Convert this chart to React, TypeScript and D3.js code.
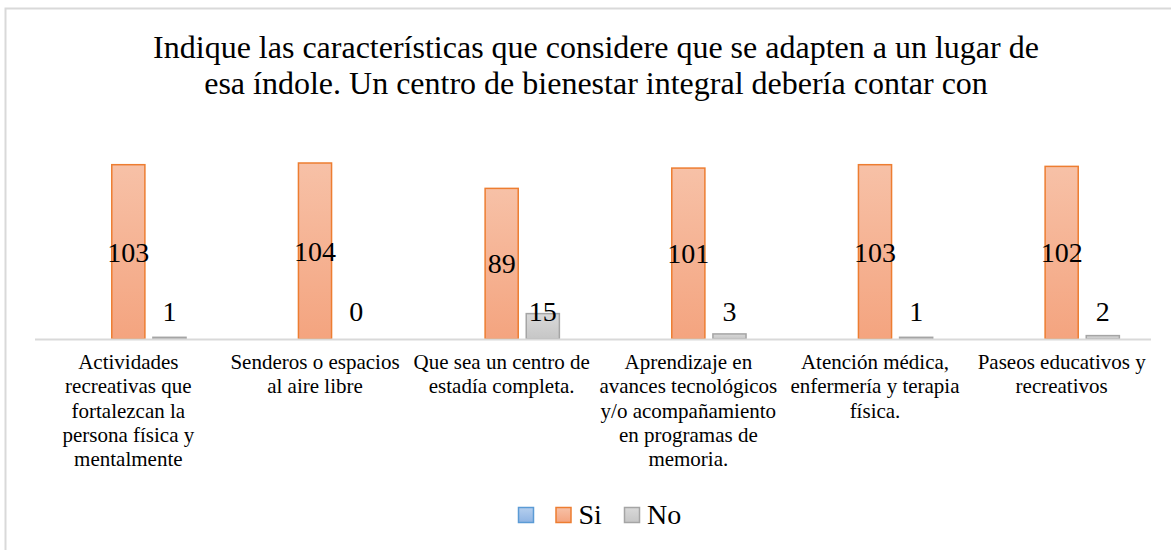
import * as d3 from 'd3';

const titleLines = [
  'Indique las características que considere que se adapten a un lugar de',
  'esa índole. Un centro de bienestar integral debería contar con',
];

const categories = ['c1', 'c2', 'c3', 'c4', 'c5', 'c6'];

const categoryLabels = [
  ['Actividades', 'recreativas que', 'fortalezcan la', 'persona física y', 'mentalmente'],
  ['Senderos o espacios', 'al aire libre'],
  ['Que sea un centro de', 'estadía completa.'],
  ['Aprendizaje en', 'avances tecnológicos', 'y/o acompañamiento', 'en programas de', 'memoria.'],
  ['Atención médica,', 'enfermería y terapia', 'física.'],
  ['Paseos educativos y', 'recreativos'],
];

const seriesNames = ['', 'Si', 'No'];
const siValues = [103, 104, 89, 101, 103, 102];
const noValues = [1, 0, 15, 3, 1, 2];

const FONT = "'Liberation Serif'";

const width = 1171;
const height = 550;

const x = d3.scaleBand<string>()
  .domain(categories)
  .range([35, 1155])
  .padding(0);

const xs = d3.scaleBand<string>()
  .domain(seriesNames)
  .range([0, x.bandwidth()])
  .paddingInner(0.195)
  .paddingOuter(0.866);

const y = d3.scaleLinear()
  .domain([0, 104])
  .range([339, 163]);

const legendItems = [
  { label: '', fill: 'url(#gBlue)', stroke: '#5b9bd5', x: 518.5 },
  { label: 'Si', fill: 'url(#gSi)', stroke: '#ed7d31', x: 556 },
  { label: 'No', fill: 'url(#gNo)', stroke: '#a5a5a5', x: 624.5 },
];

export default function App() {
  const bw = xs.bandwidth();
  const [x0, x1] = x.range();
  return (
    <svg
      width={width}
      height={height}
      style={{ position: 'absolute', left: 0, top: 0, background: 'white' }}
    >
      <defs>
        <linearGradient id="gSi" x1="0" y1="0" x2="0" y2="1">
          <stop offset="0%" stopColor="#f7c1a7" />
          <stop offset="100%" stopColor="#f4a47f" />
        </linearGradient>
        <linearGradient id="gNo" x1="0" y1="0" x2="0" y2="1">
          <stop offset="0%" stopColor="#d9d9d9" />
          <stop offset="100%" stopColor="#c6c6c6" />
        </linearGradient>
        <linearGradient id="gBlue" x1="0" y1="0" x2="0" y2="1">
          <stop offset="0%" stopColor="#b5cfee" />
          <stop offset="100%" stopColor="#8fb4e3" />
        </linearGradient>
      </defs>

      {/* outer frame */}
      <rect x={5.5} y={8.5} width={width} height={height} fill="white" stroke="#d9d9d9" strokeWidth={2} />

      <text textAnchor="middle" fontFamily={FONT} fontSize={32} fill="#000">
        {titleLines.map((t, i) => (
          <tspan key={i} x={596} y={58 + i * 36}>{t}</tspan>
        ))}
      </text>

      <g fontFamily={FONT}>
        {siValues.map((d, i) => (
          <rect
            key={'si' + i}
            x={x(categories[i])! + xs('Si')!}
            y={y(d)}
            width={bw}
            height={y(0) - y(d)}
            fill="url(#gSi)"
            stroke="#ed7d31"
            strokeWidth={1.5}
          />
        ))}
        {noValues.map((d, i) => (
          <rect
            key={'no' + i}
            x={x(categories[i])! + xs('No')!}
            y={y(d)}
            width={bw}
            height={y(0) - y(d)}
            fill="url(#gNo)"
            stroke="#a5a5a5"
            strokeWidth={1.5}
          />
        ))}

        <line x1={x0} x2={x1 - 4} y1={y(0) + 0.5} y2={y(0) + 0.5} stroke="#d9d9d9" strokeWidth={2} />

        {siValues.map((d, i) => (
          <text
            key={'lsi' + i}
            x={x(categories[i])! + xs('Si')! + bw / 2}
            y={(y(d) + y(0)) / 2}
            dy="0.35em"
            textAnchor="middle"
            fontSize={28}
          >
            {d}
          </text>
        ))}
        {noValues.map((d, i) => (
          <text
            key={'lno' + i}
            x={x(categories[i])! + xs('No')! + bw / 2}
            y={y(0) - 28}
            dy="0.35em"
            textAnchor="middle"
            fontSize={28}
          >
            {d}
          </text>
        ))}

        {categoryLabels.map((lines, i) => (
          <text key={'cat' + i} textAnchor="middle" fontSize={21}>
            {lines.map((t, j) => (
              <tspan key={j} x={x(categories[i])! + x.bandwidth() / 2} y={369 + j * 24.3}>{t}</tspan>
            ))}
          </text>
        ))}
      </g>

      {legendItems.map(l => (
        <g key={l.x}>
          <rect x={l.x} y={507.5} width={15} height={15} fill={l.fill} stroke={l.stroke} strokeWidth={1.5} />
          {l.label && (
            <text x={l.x + 22.5} y={523.5} fontFamily={FONT} fontSize={28}>{l.label}</text>
          )}
        </g>
      ))}
    </svg>
  );
}
